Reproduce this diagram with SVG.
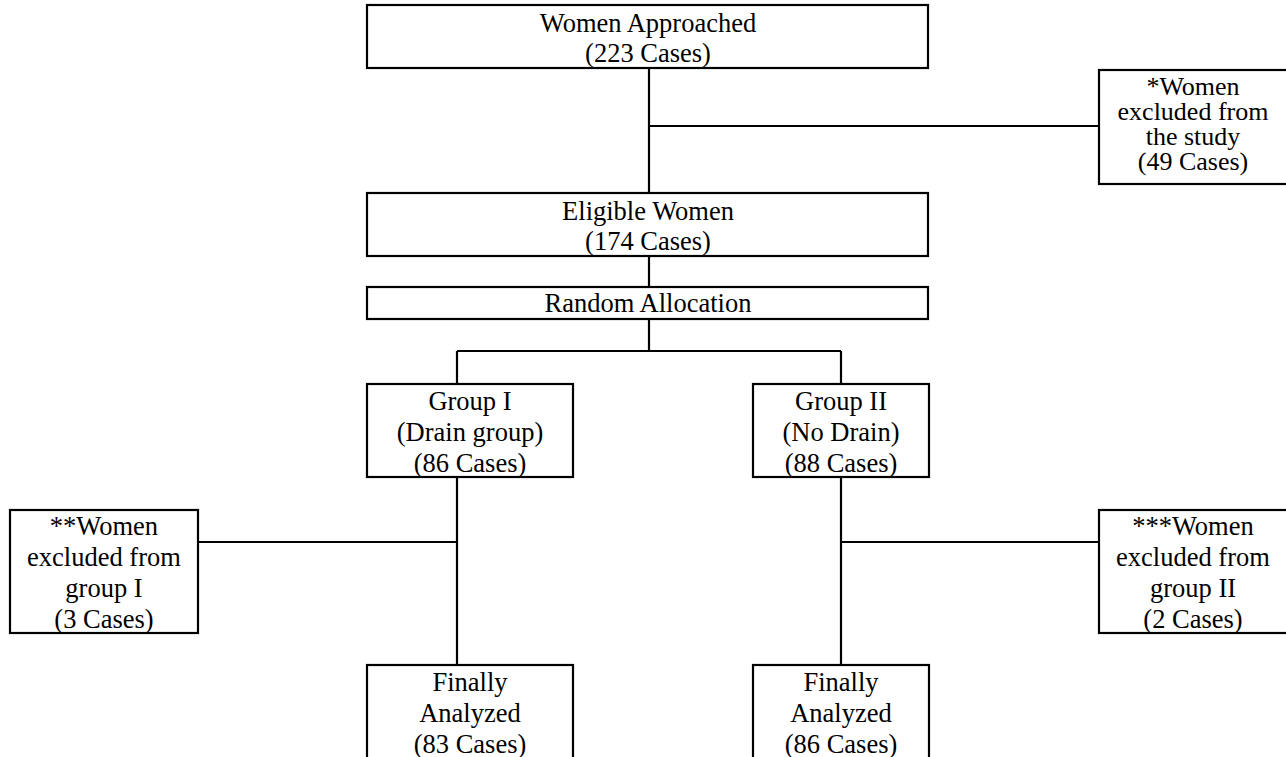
<svg xmlns="http://www.w3.org/2000/svg" width="1286" height="757" viewBox="0 0 1286 757">
<style>
.box{fill:#fff;stroke:#000;stroke-width:2.2}
.ln{fill:none;stroke:#000;stroke-width:2.2}
text{font-family:"Liberation Serif","Times New Roman",serif;font-size:26.5px;fill:#000;text-anchor:middle}
.tight{font-size:26px}
</style>
<rect width="1286" height="757" fill="#fff"/>
<g id="connectors">
<path class="ln" d="M649 68V193M649 126H1099M649 256V287M649 319V351M457 351H841M457 351V384M841 351V384M457 477V665M841 477V665M198 542H457M841 542H1099"/>
</g>
<g id="approached">
<rect class="box" x="367" y="5" width="561" height="63"/>
<text x="648" y="32">Women Approached</text>
<text x="648" y="62">(223 Cases)</text>
</g>
<g id="excluded-study">
<rect class="box" x="1099" y="70" width="190" height="114"/>
<text class="tight" x="1193" y="95">*Women</text>
<text class="tight" x="1193" y="120">excluded from</text>
<text class="tight" x="1193" y="145">the study</text>
<text class="tight" x="1193" y="170">(49 Cases)</text>
</g>
<g id="eligible">
<rect class="box" x="367" y="193" width="561" height="63"/>
<text x="648" y="220">Eligible Women</text>
<text x="648" y="250">(174 Cases)</text>
</g>
<g id="random">
<rect class="box" x="367" y="287" width="561" height="32"/>
<text x="648" y="312">Random Allocation</text>
</g>
<g id="group1">
<rect class="box" x="367" y="384" width="206" height="93"/>
<text x="470" y="410">Group I</text>
<text x="470" y="441">(Drain group)</text>
<text x="470" y="472">(86 Cases)</text>
</g>
<g id="group2">
<rect class="box" x="753" y="384" width="176" height="93"/>
<text x="841" y="410">Group II</text>
<text x="841" y="441">(No Drain)</text>
<text x="841" y="472">(88 Cases)</text>
</g>
<g id="excluded-g1">
<rect class="box" x="10" y="510" width="188" height="123"/>
<text x="104" y="535">**Women</text>
<text x="104" y="566">excluded from</text>
<text x="104" y="597">group I</text>
<text x="104" y="628">(3 Cases)</text>
</g>
<g id="excluded-g2">
<rect class="box" x="1099" y="510" width="190" height="123"/>
<text x="1193" y="535">***Women</text>
<text x="1193" y="566">excluded from</text>
<text x="1193" y="597">group II</text>
<text x="1193" y="628">(2 Cases)</text>
</g>
<g id="final1">
<rect class="box" x="367" y="665" width="206" height="100"/>
<text x="470" y="691">Finally</text>
<text x="470" y="722">Analyzed</text>
<text x="470" y="753">(83 Cases)</text>
</g>
<g id="final2">
<rect class="box" x="753" y="665" width="176" height="100"/>
<text x="841" y="691">Finally</text>
<text x="841" y="722">Analyzed</text>
<text x="841" y="753">(86 Cases)</text>
</g>
</svg>
